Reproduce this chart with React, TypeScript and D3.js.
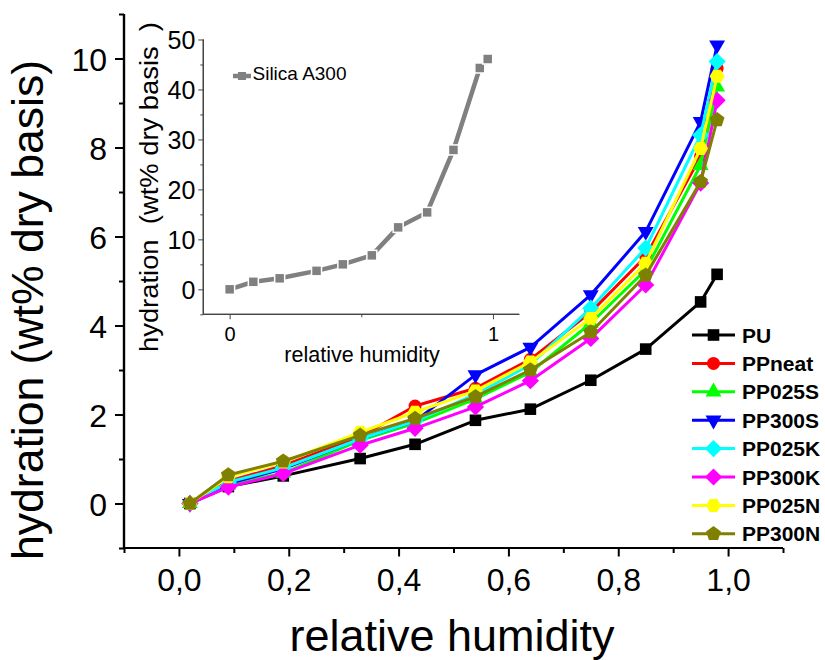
import React, { useEffect, useRef } from "react";
import * as d3 from "d3";

// relative humidity steps of the sorption runs
const rh = [0.02, 0.09, 0.19, 0.33, 0.43, 0.54, 0.64, 0.75, 0.85, 0.95, 0.98];

const seriesNames = ["PU", "PPneat", "PP025S", "PP300S", "PP025K", "PP300K", "PP025N", "PP300N"];
const seriesColors = ["#000000", "#ff0000", "#00ff00", "#0000ff", "#00ffff", "#ff00ff", "#ffff00", "#808000"];
const seriesSymbols = ["square", "circle", "triangleUp", "triangleDown", "diamond", "diamond", "hexagon", "pentagon"];

const PU = [0, 0.38, 0.62, 1.01, 1.33, 1.87, 2.12, 2.77, 3.47, 4.53, 5.15];
const PPneat = [0, 0.5, 0.85, 1.5, 2.19, 2.59, 3.24, 4.3, 5.55, 7.8, 9.78];
const PP025S = [0, 0.42, 0.68, 1.42, 1.8, 2.35, 2.95, 4.05, 5.25, 7.6, 9.36];
const PP300S = [0, 0.45, 0.78, 1.45, 1.85, 2.89, 3.51, 4.69, 6.11, 8.58, 10.3];
const PP025K = [0, 0.48, 0.8, 1.45, 1.85, 2.45, 3.12, 4.39, 5.74, 8.28, 9.93];
const PP300K = [0, 0.37, 0.67, 1.31, 1.69, 2.17, 2.76, 3.71, 4.91, 7.2, 9.06];
const PP025N = [0, 0.6, 0.93, 1.6, 2.05, 2.53, 3.18, 4.16, 5.4, 7.98, 9.6];
const PP300N = [0, 0.64, 0.95, 1.53, 1.91, 2.4, 3.0, 3.85, 5.13, 7.23, 8.62];
const seriesValues = [PU, PPneat, PP025S, PP300S, PP025K, PP300K, PP025N, PP300N];

// inset: silica A300
const silicaRh = [0, 0.09, 0.19, 0.33, 0.43, 0.54, 0.64, 0.75, 0.85, 0.95, 0.98];
const silicaValues = [0, 1.5, 2.2, 3.7, 5.0, 6.8, 12.4, 15.4, 27.9, 44.3, 46.1];

const mainXTicks = [0, 0.2, 0.4, 0.6, 0.8, 1.0];
const mainXMinor = [-0.1, 0.1, 0.3, 0.5, 0.7, 0.9, 1.1];
const mainYTicks = [0, 2, 4, 6, 8, 10];
const mainYMinor = [-1, 1, 3, 5, 7, 9, 11];
const insetXTicks = [0, 1];
const insetXMinor = [0.5];
const insetYTicks = [0, 10, 20, 30, 40, 50];
const insetYMinor = [-5, 5, 15, 25, 35, 45];

const FONT = "'Liberation Sans', Arial, sans-serif";

function polygon(n: number, start: number) {
  return {
    draw(ctx: any, r: number) {
      for (let i = 0; i < n; i++) {
        const a = start + (i * 2 * Math.PI) / n;
        const px = r * Math.cos(a);
        const py = r * Math.sin(a);
        if (i === 0) ctx.moveTo(px, py);
        else ctx.lineTo(px, py);
      }
      ctx.closePath();
    },
  };
}

const symbolTypes: any = {
  square: { draw(ctx: any, r: number) { ctx.rect(-r, -r, 2 * r, 2 * r); } },
  circle: { draw(ctx: any, r: number) { ctx.moveTo(r, 0); ctx.arc(0, 0, r, 0, 2 * Math.PI); } },
  triangleUp: polygon(3, -Math.PI / 2),
  triangleDown: polygon(3, Math.PI / 2),
  diamond: polygon(4, -Math.PI / 2),
  pentagon: polygon(5, -Math.PI / 2),
  hexagon: polygon(6, 0),
};
const symbolRadius: any = {
  square: 5.8, circle: 6.5, triangleUp: 9.2, triangleDown: 9.2, diamond: 8.6, pentagon: 7.8, hexagon: 7.5,
};

function marker(kind: string) {
  return d3.symbol().type(symbolTypes[kind]).size(symbolRadius[kind])();
}

export default function App() {
  const ref = useRef<SVGSVGElement>(null);

  useEffect(() => {
    const svg = d3.select(ref.current);
    svg.selectAll("*").remove();

    const x = d3.scaleLinear().domain([-0.1, 1.1]).range([124, 783]);
    const y = d3.scaleLinear().domain([-1, 11]).range([548, 14]);
    const comma = (d: any) => d3.format(".1f")(d).replace(".", ",");

    // main axes
    const gx = svg.append("g").attr("transform", `translate(0,${y.range()[0]})`);
    gx.call(d3.axisBottom(x).tickValues(mainXMinor).tickSize(5).tickFormat(() => "") as any);
    gx.call((g: any) => g.append("g").call(d3.axisBottom(x).tickValues(mainXTicks).tickSize(8.5).tickFormat(comma as any)));
    gx.selectAll("path.domain").attr("stroke-width", 2.2).attr("d", `M${x.range()[0]},0H${x.range()[1]}`);
    gx.selectAll("line").attr("stroke-width", 2);
    gx.selectAll("text").attr("y", 43).attr("dy", 0).attr("font-size", 32).attr("font-family", FONT).attr("fill", "#000");

    const gy = svg.append("g").attr("transform", `translate(${x.range()[0]},0)`);
    gy.call(d3.axisLeft(y).tickValues(mainYMinor).tickSize(5).tickFormat(() => "") as any);
    gy.call((g: any) => g.append("g").call(d3.axisLeft(y).tickValues(mainYTicks).tickSize(9).tickFormat(d3.format("d") as any)));
    gy.selectAll("path.domain").attr("stroke-width", 2.2).attr("d", `M0,${y.range()[0]}V${y.range()[1]}`);
    gy.selectAll("line").attr("stroke-width", 2);
    gy.selectAll("text").attr("x", -17).attr("dy", "0.36em").attr("font-size", 32).attr("font-family", FONT).attr("fill", "#000");
    svg.selectAll(".domain").attr("stroke", "#000");

    // axis titles
    svg.append("text")
      .attr("x", 452).attr("y", 651)
      .attr("text-anchor", "middle").attr("font-size", 45).attr("font-family", FONT)
      .text("relative humidity");
    svg.append("text")
      .attr("transform", "translate(43,310) rotate(-90)")
      .attr("text-anchor", "middle").attr("font-size", 44.5).attr("font-family", FONT)
      .attr("textLength", 500).attr("lengthAdjust", "spacingAndGlyphs")
      .text("hydration (wt% dry basis)");

    // inset
    const ix = d3.scaleLinear().domain([-0.1, 1.1]).range([203.3, 519.3]);
    const iy = d3.scaleLinear().domain([-5, 50]).range([314.3, 39.5]);
    const inset = svg.append("g");
    const igx = inset.append("g").attr("transform", `translate(0,${iy.range()[0]})`);
    igx.call(d3.axisBottom(ix).tickValues(insetXMinor).tickSize(3).tickFormat(() => "") as any);
    igx.call((g: any) => g.append("g").call(d3.axisBottom(ix).tickValues(insetXTicks).tickSize(5).tickFormat(d3.format("d") as any)));
    igx.selectAll("path.domain").attr("d", `M${ix.range()[0]},0H${ix.range()[1]}`);
    igx.selectAll("text").attr("y", 27).attr("dy", 0).attr("font-size", 20).attr("font-family", FONT).attr("fill", "#000");
    const igy = inset.append("g").attr("transform", `translate(${ix.range()[0]},0)`);
    igy.call(d3.axisLeft(iy).tickValues(insetYMinor).tickSize(3).tickFormat(() => "") as any);
    igy.call((g: any) => g.append("g").call(d3.axisLeft(iy).tickValues(insetYTicks).tickSize(5).tickFormat(d3.format("d") as any)));
    igy.selectAll("path.domain").attr("d", `M0,${iy.range()[0]}V${iy.range()[1]}`);
    igy.selectAll("text").attr("x", -8).attr("dy", "0.36em").attr("font-size", 25).attr("font-family", FONT).attr("fill", "#000");
    inset.selectAll("path.domain").attr("stroke", "#444").attr("stroke-width", 1.2);
    inset.selectAll("line").attr("stroke", "#444").attr("stroke-width", 1);

    inset.append("text")
      .attr("x", 362).attr("y", 361.5)
      .attr("text-anchor", "middle").attr("font-size", 21.5).attr("font-family", FONT)
      .text("relative humidity");
    inset.append("text")
      .attr("transform", "translate(158,187) rotate(-90)")
      .attr("text-anchor", "middle").attr("font-size", 26).attr("font-family", FONT)
      .attr("textLength", 330).attr("lengthAdjust", "spacingAndGlyphs")
      .attr("xml:space", "preserve").style("white-space", "pre")
      .text("hydration  (wt% dry basis  )");

    const silica = silicaRh.map((r, i) => [r, silicaValues[i]] as [number, number]);
    inset.append("path")
      .attr("d", d3.line().x((d) => ix(d[0])).y((d) => iy(d[1]))(silica))
      .attr("fill", "none").attr("stroke", "#808080").attr("stroke-width", 4.5);
    inset.selectAll("rect.pt").data(silica).join("rect")
      .attr("x", (d) => ix(d[0]) - 5).attr("y", (d) => iy(d[1]) - 5)
      .attr("width", 10).attr("height", 10)
      .attr("fill", "#808080").attr("stroke", "#fff").attr("stroke-width", 1.5);

    // inset legend
    inset.append("line").attr("x1", 233).attr("x2", 251).attr("y1", 76).attr("y2", 76)
      .attr("stroke", "#808080").attr("stroke-width", 4.5);
    inset.append("rect").attr("x", 238).attr("y", 72).attr("width", 8).attr("height", 8).attr("fill", "#808080");
    inset.append("text").attr("x", 252.5).attr("y", 79.5)
      .attr("font-size", 19).attr("font-family", FONT).text("Silica A300");

    // main series
    const line = d3.line<[number, number]>().x((d) => x(d[0])).y((d) => y(d[1]));
    seriesValues.forEach((vals, i) => {
      const pts = rh.map((r, j) => [r, vals[j]] as [number, number]);
      const g = svg.append("g");
      g.append("path").attr("d", line(pts)).attr("fill", "none")
        .attr("stroke", seriesColors[i]).attr("stroke-width", 3).attr("stroke-linejoin", "round");
      g.selectAll("path.mk").data(pts).join("path").attr("class", "mk")
        .attr("transform", (d) => `translate(${x(d[0])},${y(d[1])})`)
        .attr("d", marker(seriesSymbols[i]))
        .attr("fill", seriesColors[i]);
    });

    // legend
    const legend = svg.append("g");
    seriesNames.forEach((name, i) => {
      const ly = 335 + i * 28.4;
      legend.append("line").attr("x1", 692).attr("x2", 735).attr("y1", ly).attr("y2", ly)
        .attr("stroke", seriesColors[i]).attr("stroke-width", 3);
      legend.append("path").attr("transform", `translate(713.5,${ly})`)
        .attr("d", marker(seriesSymbols[i])).attr("fill", seriesColors[i]);
      legend.append("text").attr("x", 742).attr("y", ly).attr("dy", "0.36em")
        .attr("font-size", 21).attr("font-weight", "bold").attr("font-family", FONT)
        .text(name);
    });
  }, []);

  return (
    <svg
      ref={ref}
      width={825}
      height={660}
      style={{ position: "absolute", left: 0, top: 0, background: "#fff" }}
    />
  );
}
